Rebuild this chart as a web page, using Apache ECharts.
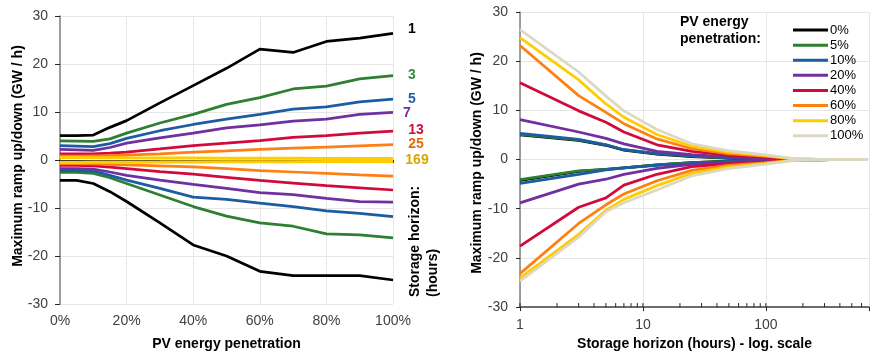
<!DOCTYPE html>
<html>
<head>
<meta charset="utf-8">
<title>Ramp vs PV penetration</title>
<script src="https://cdn.jsdelivr.net/npm/echarts@6/dist/echarts.min.js"></script>
<style>
	html, body { margin: 0; padding: 0; background: #fff; }
	#chart { width: 872px; height: 356px; }
</style>
</head>
<body>
<div id="chart"></div>
<script>
	// left panel: x = PV energy penetration (%), one up/down pair per storage horizon
	var penetration = [0, 5, 10, 15, 20, 30, 40, 50, 60, 70, 80, 90, 100];
	var horizonLabels = ['1', '3', '5', '7', '13', '25', '169'];
	var h1Up = [5.1, 5.1, 5.2, 6.8, 8.2, 11.9, 15.5, 19.1, 23.1, 22.4, 24.7, 25.4, 26.4];
	var h1Down = [-4.25, -4.25, -4.9, -6.6, -8.65, -13.1, -17.7, -20.0, -23.2, -24.1, -24.1, -24.1, -25.0];
	var h3Up = [4.0, 3.95, 3.9, 4.4, 5.6, 7.7, 9.5, 11.6, 13.0, 14.8, 15.4, 16.9, 17.6];
	var h3Down = [-2.6, -2.6, -2.8, -3.7, -4.9, -7.3, -9.7, -11.7, -13.1, -13.8, -15.4, -15.6, -16.2];
	var h5Up = [3.0, 2.9, 2.8, 3.4, 4.5, 6.1, 7.4, 8.5, 9.5, 10.6, 11.05, 12.1, 12.7];
	var h5Down = [-2.2, -2.2, -2.3, -3.2, -4.2, -5.9, -7.75, -8.2, -9.0, -9.7, -10.6, -11.1, -11.8];
	var h7Up = [2.2, 2.1, 2.0, 2.6, 3.5, 4.6, 5.6, 6.7, 7.3, 8.1, 8.5, 9.5, 9.9];
	var h7Down = [-1.8, -1.8, -1.9, -2.5, -3.2, -4.2, -5.1, -5.9, -6.8, -7.2, -8.0, -8.65, -8.8];
	var h13Up = [1.3, 1.3, 1.3, 1.45, 1.65, 2.3, 3.0, 3.5, 4.05, 4.7, 5.1, 5.6, 6.0];
	var h13Down = [-1.1, -1.1, -1.2, -1.5, -1.8, -2.4, -2.95, -3.6, -4.25, -4.8, -5.35, -5.8, -6.25];
	var h25Up = [0.8, 0.8, 0.85, 0.9, 1.0, 1.3, 1.65, 1.9, 2.2, 2.45, 2.7, 2.95, 3.2];
	var h25Down = [-0.75, -0.75, -0.8, -0.9, -1.0, -1.2, -1.45, -1.8, -2.2, -2.5, -2.8, -3.1, -3.35];
	var h169Up = [0.5, 0.5, 0.48, 0.47, 0.45, 0.43, 0.4, 0.38, 0.36, 0.34, 0.32, 0.31, 0.3];
	var h169Down = [-0.5, -0.5, -0.48, -0.47, -0.45, -0.43, -0.4, -0.38, -0.36, -0.34, -0.32, -0.31, -0.3];

	// right panel: x = storage horizon (hours, log), one up/down pair per penetration
	var horizons = [1, 3, 5, 7, 13, 25, 49, 97, 169, 337, 673];
	var penetrationLabels = ['0%', '5%', '10%', '20%', '40%', '60%', '80%', '100%'];
	var p0Up = [5.0, 3.9, 2.9, 1.9, 1.1, 0.6, 0.3, 0.15, 0.05, 0, 0];
	var p0Down = [-4.25, -2.4, -2.0, -1.7, -1.1, -0.6, -0.3, -0.15, -0.05, 0, 0];
	var p5Up = [5.1, 4.0, 3.0, 2.0, 1.2, 0.7, 0.35, 0.2, 0.05, 0, 0];
	var p5Down = [-4.1, -2.3, -2.0, -1.7, -1.1, -0.65, -0.35, -0.2, -0.05, 0, 0];
	var p10Up = [5.3, 4.1, 3.0, 2.0, 1.2, 0.8, 0.4, 0.2, 0.05, 0, 0];
	var p10Down = [-4.85, -3.0, -2.1, -1.7, -1.2, -0.8, -0.4, -0.2, -0.05, 0, 0];
	var p20Up = [8.1, 5.6, 4.3, 3.2, 1.65, 1.0, 0.55, 0.3, 0.08, 0, 0];
	var p20Down = [-8.8, -5.0, -4.0, -3.0, -1.8, -1.0, -0.55, -0.3, -0.08, 0, 0];
	var p40Up = [15.6, 9.9, 7.6, 5.6, 3.0, 1.65, 0.9, 0.5, 0.1, 0, 0];
	var p40Down = [-17.6, -9.7, -7.8, -5.2, -3.0, -1.45, -0.9, -0.5, -0.1, 0, 0];
	var p60Up = [23.2, 13.0, 9.6, 7.3, 4.2, 2.2, 1.2, 0.7, 0.12, 0, 0];
	var p60Down = [-23.2, -13.0, -9.2, -7.0, -4.3, -2.2, -1.2, -0.7, -0.12, 0, 0];
	var p80Up = [24.8, 16.2, 11.3, 8.6, 5.1, 2.7, 1.5, 0.85, 0.15, 0, 0];
	var p80Down = [-24.1, -15.2, -10.3, -8.1, -5.3, -2.8, -1.5, -0.85, -0.15, 0, 0];
	var p100Up = [26.4, 17.8, 12.9, 9.9, 6.1, 3.2, 1.8, 1.0, 0.18, 0, 0];
	var p100Down = [-24.7, -15.8, -10.6, -8.8, -6.2, -3.3, -1.85, -1.0, -0.18, 0, 0];

	// minor ticks of the log axis (plus the decades, drawn inward)
	var logTicks = [1, 2, 3, 4, 5, 6, 7, 8, 9, 10, 20, 30, 40, 50, 60, 70, 80, 90, 100, 200, 300, 400, 500, 600];

	var leftColors = ['#000000', '#2e7f32', '#1c5ca0', '#7030a0', '#d20a3c', '#ff7f10', '#ffcc00'];
	var leftLabelColors = ['#000000', '#3a8a3a', '#2060a8', '#7030a0', '#d0103a', '#e46c0a', '#d4a800'];
	var leftLabelOffsets = [[19, -4], [19, 0], [19, 0], [14, 1], [23, -1], [23, 0], [24, 2]];
	var rightColors = ['#000000', '#2e7f32', '#1c5ca0', '#7030a0', '#d20a3c', '#ff7f10', '#ffcc00', '#ddd8c4'];

	var leftUp = [h1Up, h3Up, h5Up, h7Up, h13Up, h25Up, h169Up];
	var leftDown = [h1Down, h3Down, h5Down, h7Down, h13Down, h25Down, h169Down];
	var rightUp = [p0Up, p5Up, p10Up, p20Up, p40Up, p60Up, p80Up, p100Up];
	var rightDown = [p0Down, p5Down, p10Down, p20Down, p40Down, p60Down, p80Down, p100Down];

	function pairs(xs, ys) {
		return xs.map(function (x, i) { return [x, ys[i]]; });
	}

	var FONT = '"Liberation Sans", Arial, sans-serif';
	var LINE_W = 2.75;
	var series = [];

	leftUp.forEach(function (up, i) {
		var width = i === 6 ? 3 : LINE_W;
		var last = penetration.length - 1;
		series.push({
			name: 'h' + horizonLabels[i] + ' up',
			type: 'line',
			xAxisIndex: 0,
			yAxisIndex: 0,
			symbol: 'none',
			data: pairs(penetration, up),
			lineStyle: { color: leftColors[i], width: width },
			itemStyle: { color: leftColors[i] },
			markPoint: {
				symbol: 'circle',
				symbolSize: 0,
				silent: true,
				data: [{ coord: [penetration[last], up[last]] }],
				label: {
					show: true,
					position: 'inside',
					offset: leftLabelOffsets[i],
					formatter: horizonLabels[i],
					color: leftLabelColors[i],
					fontFamily: FONT,
					fontWeight: 'bold',
					fontSize: 14
				}
			}
		});
		series.push({
			name: 'h' + horizonLabels[i] + ' down',
			type: 'line',
			xAxisIndex: 0,
			yAxisIndex: 0,
			symbol: 'none',
			data: pairs(penetration, leftDown[i]),
			lineStyle: { color: leftColors[i], width: width },
			itemStyle: { color: leftColors[i] }
		});
	});

	rightUp.forEach(function (up, i) {
		[up, rightDown[i]].forEach(function (vals) {
			series.push({
				name: penetrationLabels[i],
				type: 'line',
				xAxisIndex: 2,
				yAxisIndex: 1,
				symbol: 'none',
				data: pairs(horizons, vals),
				lineStyle: { color: rightColors[i], width: LINE_W },
				itemStyle: { color: rightColors[i] }
			});
		});
	});

	series.push({
		type: 'custom',
		xAxisIndex: 2,
		yAxisIndex: 1,
		silent: true,
		z: 5,
		data: logTicks.map(function (v) { return [v, -30]; }),
		renderItem: function (params, api) {
			var p = api.coord([api.value(0), api.value(1)]);
			return {
				type: 'line',
				shape: { x1: p[0], y1: p[1], x2: p[0], y2: p[1] - 4 },
				style: { stroke: '#262626', lineWidth: 1 }
			};
		}
	});

	var axisLabelStyle = { color: '#404040', fontFamily: FONT, fontSize: 14 };
	var gridLine = { show: true, lineStyle: { color: '#e6e6e6', width: 1 } };

	var option = {
		animation: false,
		backgroundColor: '#ffffff',
		grid: [
			{ left: 60, top: 16, width: 333, height: 291 },
			{ left: 520, top: 12, width: 352, height: 302 }
		],
		xAxis: [
			{
				type: 'value', gridIndex: 0, min: 0, max: 100, interval: 20, position: 'bottom',
				axisLine: { show: false, onZero: false },
				axisTick: { show: false },
				axisLabel: Object.assign({ margin: 10, formatter: '{value}%' }, axisLabelStyle),
				splitLine: gridLine,
				name: 'PV energy penetration', nameLocation: 'middle', nameGap: 33,
				nameTextStyle: { color: '#000', fontFamily: FONT, fontWeight: 'bold', fontSize: 14 }
			},
			{
				type: 'value', gridIndex: 0, min: 0, max: 100, interval: 20, position: 'bottom',
				axisLine: { show: true, onZero: true, lineStyle: { color: '#404040', width: 1 } },
				axisTick: { show: true, length: 3, lineStyle: { color: '#404040' } },
				axisLabel: { show: false },
				splitLine: { show: false }
			},
			{
				type: 'log', logBase: 10, gridIndex: 1, min: 1, max: 690, position: 'bottom',
				axisLine: { show: true, onZero: false, lineStyle: { color: '#404040', width: 1.5 } },
				axisTick: { show: true, length: 4, lineStyle: { color: '#262626' } },
				axisLabel: Object.assign({
					margin: 11,
					formatter: function (v) {
						var l = Math.log(v) / Math.LN10;
						return Math.abs(l - Math.round(l)) < 1e-6 ? String(Math.round(v)) : '';
					}
				}, axisLabelStyle),
				splitLine: gridLine,
				name: 'Storage horizon (hours) - log. scale', nameLocation: 'middle', nameGap: 26,
				nameTextStyle: { color: '#000', fontFamily: FONT, fontWeight: 'bold', fontSize: 14 }
			}
		],
		yAxis: [
			{
				type: 'value', gridIndex: 0, min: -30, max: 30, interval: 10,
				axisLine: { show: true, lineStyle: { color: '#808080', width: 1.5 } },
				axisTick: { show: true, length: 5, lineStyle: { color: '#262626' } },
				axisLabel: Object.assign({ margin: 12 }, axisLabelStyle),
				splitLine: gridLine
			},
			{
				type: 'value', gridIndex: 1, min: -30, max: 30, interval: 10,
				axisLine: { show: true, onZero: false, lineStyle: { color: '#808080', width: 1.5 } },
				axisTick: { show: true, length: 4, lineStyle: { color: '#262626' } },
				axisLabel: Object.assign({ margin: 12 }, axisLabelStyle),
				splitLine: gridLine
			}
		],
		legend: {
			data: penetrationLabels,
			orient: 'vertical',
			left: 788,
			top: 17.5,
			icon: 'rect',
			itemWidth: 35,
			itemHeight: 3,
			itemGap: 0,
			textStyle: { color: '#000', fontFamily: FONT, fontSize: 13, lineHeight: 15.1, padding: [0, 0, 0, -3] },
			selectedMode: false
		},
		graphic: [
			{
				type: 'text', x: 18, y: 156, rotation: Math.PI / 2,
				style: { text: 'Maximum ramp up/down (GW / h)', fill: '#000', font: 'bold 14px ' + FONT, align: 'center', verticalAlign: 'middle' }
			},
			{
				type: 'text', x: 477, y: 163, rotation: Math.PI / 2,
				style: { text: 'Maximum ramp up/down (GW / h)', fill: '#000', font: 'bold 14px ' + FONT, align: 'center', verticalAlign: 'middle' }
			},
			{
				type: 'text', x: 415, y: 297, rotation: Math.PI / 2,
				style: { text: 'Storage horizon:', fill: '#000', font: 'bold 14px ' + FONT, align: 'left', verticalAlign: 'middle' }
			},
			{
				type: 'text', x: 433, y: 297, rotation: Math.PI / 2,
				style: { text: '(hours)', fill: '#000', font: 'bold 14px ' + FONT, align: 'left', verticalAlign: 'middle' }
			},
			{
				type: 'text', left: 680, top: 14,
				style: { text: 'PV energy\npenetration:', fill: '#000', font: 'bold 14px ' + FONT, lineHeight: 16.6 }
			}
		],
		series: series
	};

	var myChart = echarts.init(document.getElementById('chart'));
	myChart.setOption(option);
</script>
</body>
</html>
